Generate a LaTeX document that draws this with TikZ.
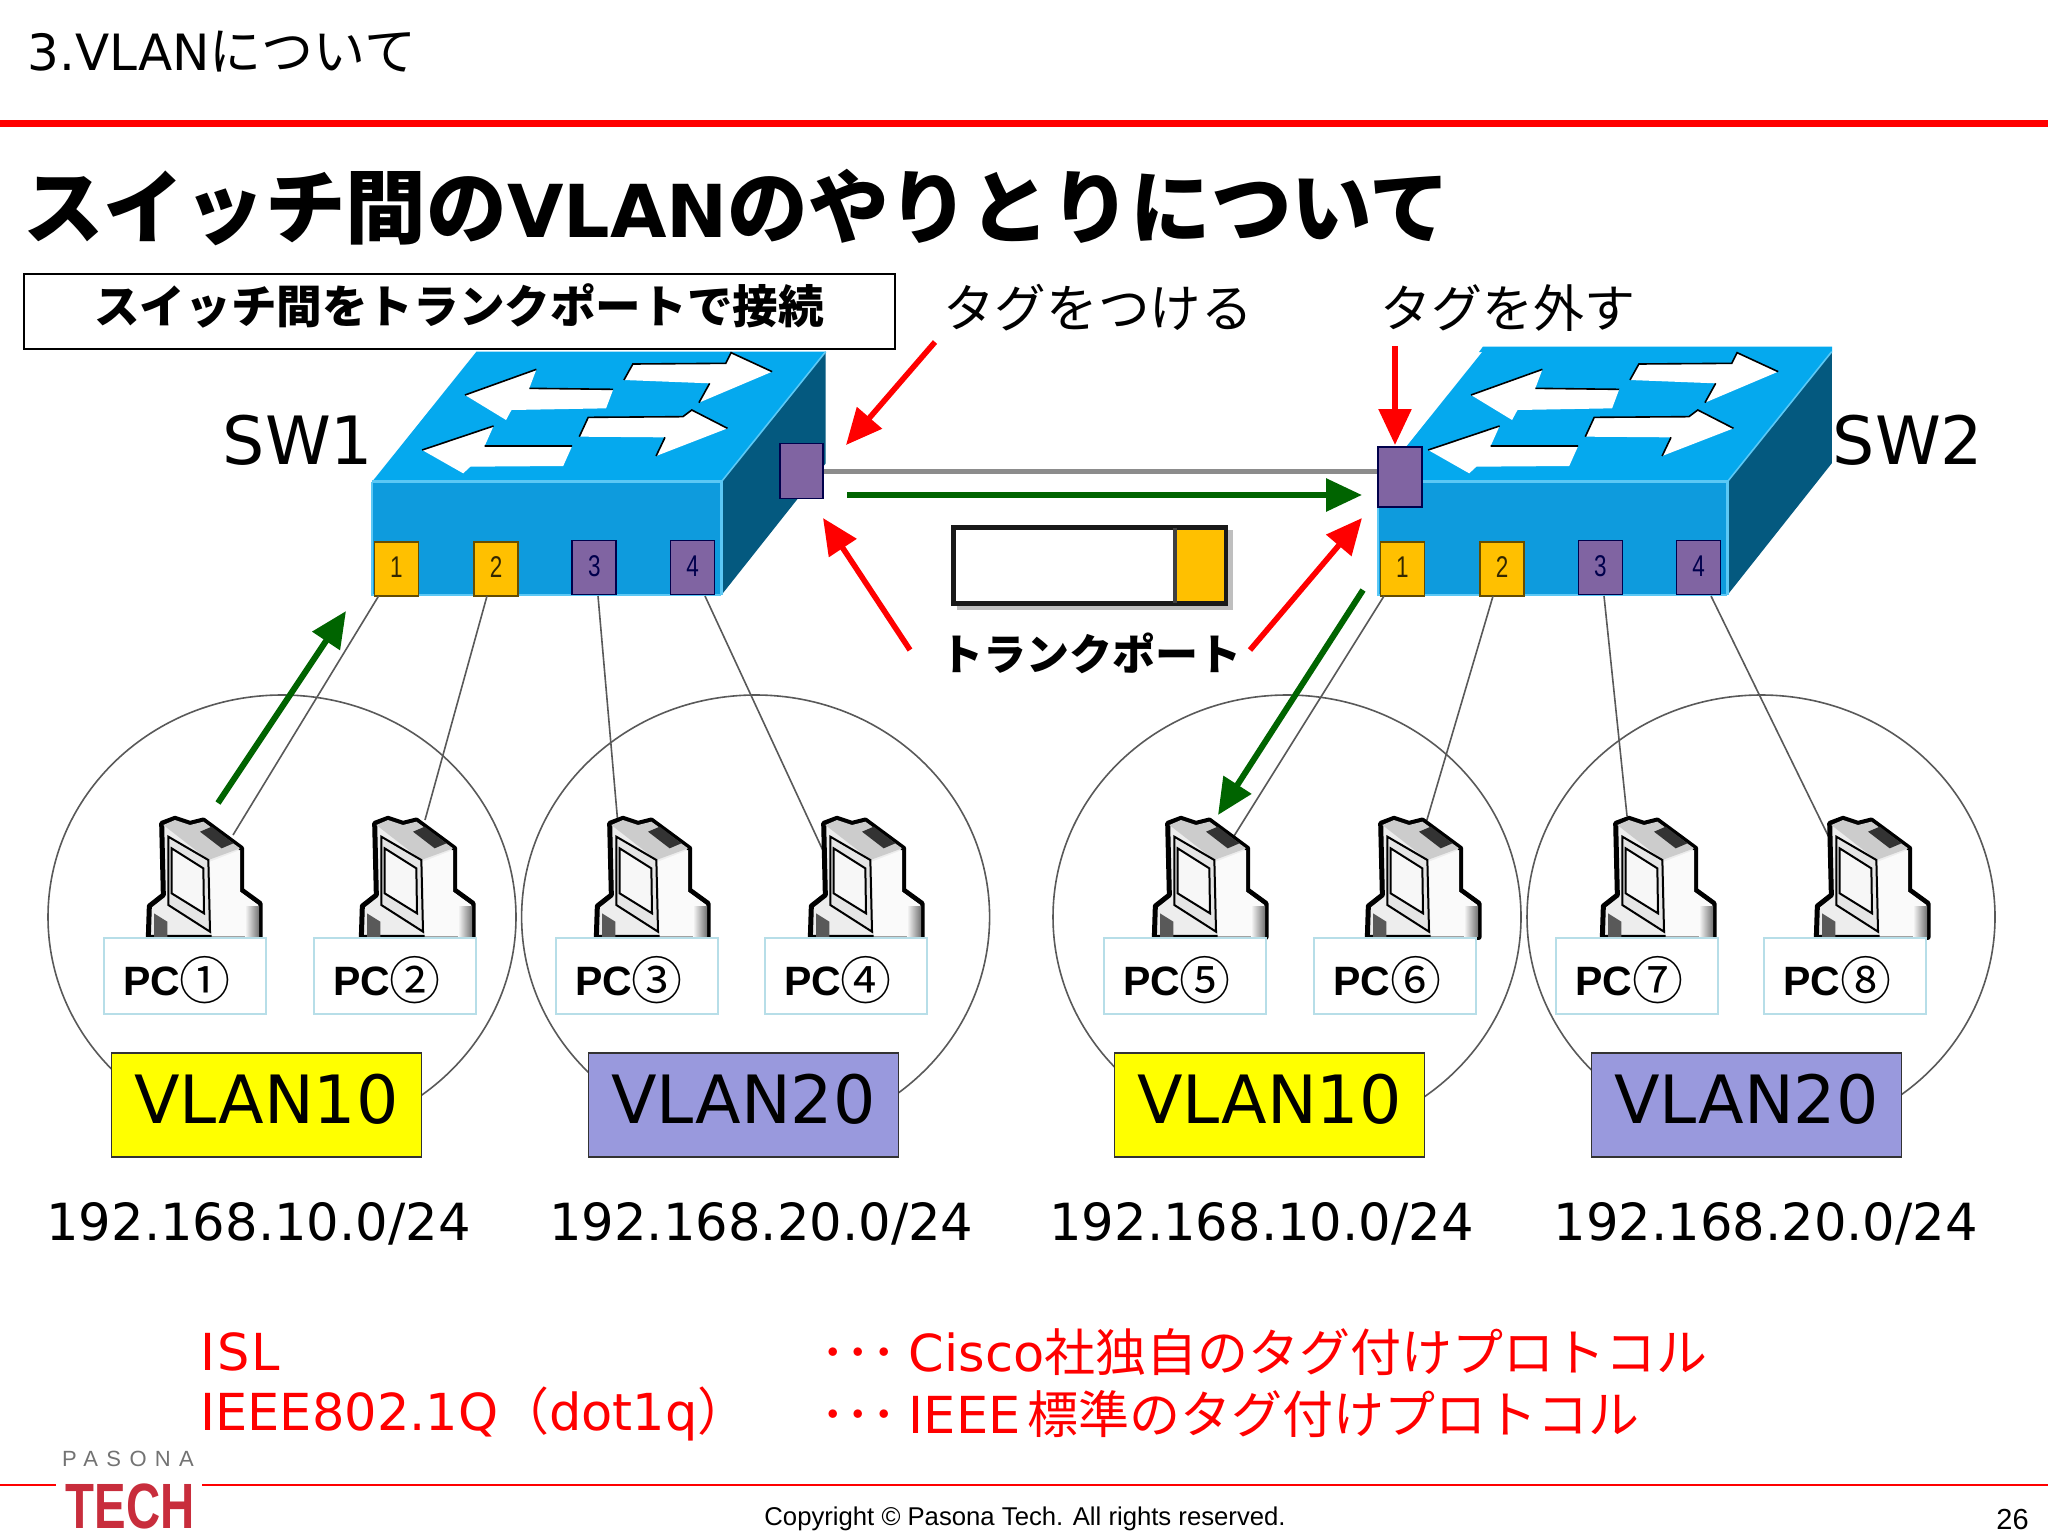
\documentclass[tikz,border=0pt]{standalone}
\usepackage{fontspec}
\usepackage{graphicx}
\usetikzlibrary{arrows.meta}
\setmainfont{DejaVu Sans}
\newfontfamily\jp{Noto Sans CJK JP}
\newfontfamily\arial{Liberation Sans}
\newfontfamily\pasona[LetterSpace=38]{Liberation Sans}
\newcommand\fsz[1]{\fontsize{#1}{#1}\selectfont}
\newcommand\ptnum[1]{\raisebox{1.5pt}{\scalebox{.75}[1]{#1}}}
\definecolor{swtop}{HTML}{05A9EE}
\definecolor{swfront}{HTML}{0E9BDD}
\definecolor{swside}{HTML}{04597F}
\definecolor{swedge}{HTML}{5CC8F5}
\definecolor{porto}{HTML}{FFC000}
\definecolor{portp}{HTML}{8064A2}
\definecolor{vlany}{RGB}{255,255,0}
\definecolor{vlanp}{HTML}{9999DD}
\definecolor{pcb}{HTML}{B7DEE8}
\definecolor{dgreen}{HTML}{006400}
\tikzset{
 ptbase/.style={inner sep=0pt,minimum width=22pt,minimum height=27pt,line width=.8pt,font=\arial\fontsize{15}{15}\selectfont},
 portor/.style={ptbase,fill=porto,draw=black!60!porto,text=black!80!porto},
 portpu/.style={ptbase,fill=portp,draw=blue!30!black,text=blue!30!black},
 pclabel/.style={draw=pcb,fill=white,line width=1pt,minimum width=81pt,minimum height=38pt,inner sep=0pt},
 pctext/.style={inner sep=0pt},
 vlanbox/.style={draw=black!80,line width=.8pt,minimum width=155pt,minimum height=52pt,inner sep=0pt,font=\fsz{33.3}},
 vcircle/.style={draw=black!65,line width=.8pt},
 iptext/.style={inner sep=0pt,font=\fsz{25.6}},
 link/.style={draw=black!65,line width=.8pt},
 redarrow/.style={draw=red,line width=2.8pt,-{Triangle[length=18pt,width=16pt]}},
 greenarrow/.style={draw=dgreen,line width=3pt,-{Triangle[length=18pt,width=16pt]}},
 redtext/.style={inner sep=0pt,text=red,font=\fsz{25.5}},
 switchpic/.pic={
  \begin{scope}[x=0.17857pt,y=-0.16667pt]
   \fill[swside] (1068,455)--(1360,65)--(1360,400)--(1068,795)--cycle;
   \fill[swtop] (90,455)--(382,65)--(1360,65)--(1068,455)--cycle;
   \fill[swfront] (90,455) rectangle (1068,795);
   \draw[swedge,line width=1.2pt] (90,455)--(1068,455)--(1068,795);
   \draw[swedge,line width=.8pt] (1068,455)--(1360,65);
   \draw[swedge,line width=.8pt] (90,455)--(90,795)--(1068,795);
   \fill[white] (350,195)--(550,118)--(530,175)--(765,178)--(745,235)--(480,240)--(465,270)--cycle;
   \fill[white] (795,150)--(820,102)--(1080,100)--(1095,68)--(1210,125)--(1005,218)--(1035,160)--cycle;
   \fill[white] (230,360)--(430,288)--(405,348)--(650,348)--(625,408)--(365,410)--(345,430)--cycle;
   \fill[white] (670,320)--(695,262)--(960,260)--(985,240)--(1085,295)--(885,378)--(910,322)--cycle;
   \draw[black,line width=.8pt] (350,195)--(550,118) (530,175)--(765,178);
   \draw[black,line width=.8pt] (795,150)--(820,102)--(1080,100)--(1095,68)--(1210,125) (1035,160)--(1005,218);
   \draw[black,line width=.8pt] (230,360)--(430,288) (405,348)--(650,348);
   \draw[black,line width=.8pt] (670,320)--(695,262)--(960,260)--(985,240)--(1085,295) (910,322)--(885,378);
   \node[portor] (-p1) at (158,717) {\ptnum{1}};
   \node[portor] (-p2) at (437,717) {\ptnum{2}};
   \node[portpu] (-p3) at (712,712) {\ptnum{3}};
   \node[portpu] (-p4) at (987,712) {\ptnum{4}};
  \end{scope}
 },
 pcpic/.pic={
  \begin{scope}[x=0.16667pt,y=-0.16667pt]
   \draw[black,line width=2.5pt,fill=black!7,line join=round] (355,472)--(358,378)--(400,345)--(395,130)--(435,115)--(480,130)--(520,120)--(635,205)--(635,330)--(690,370)--(690,472)--cycle;
   \fill[black!2] (540,245)--(630,210)--(630,335)--(685,375)--(685,470)--(545,470)--cycle;
   \shade[left color=black!2,right color=black!55] (645,378) rectangle (687,470);
   \fill[black!20] (400,135)--(435,120)--(480,135)--(520,125)--(630,205)--(535,240)--cycle;
   \draw[black,line width=1pt,fill=black!10] (415,170)--(535,240)--(540,455)--(415,375)--cycle;
   \draw[black,line width=1pt,fill=black!3] (425,205)--(520,265)--(522,400)--(425,340)--cycle;
   \fill[black!80] (510,155)--(545,140)--(610,190)--(575,205)--cycle;
   \fill[black!65] (372,400)--(412,425)--(412,472)--(372,472)--cycle;
  \end{scope}
 }
}
\begin{document}
\begin{tikzpicture}[x=.5pt,y=-.5pt]
\useasboundingbox (0,0) rectangle (2048,1536);
\fill[white] (0,0) rectangle (2048,1536);
% header
\node[anchor=west,inner sep=0pt] (title) at (27,52) {\fsz{25}3.VLAN\jp\fsz{26}について};
\fill[red] (0,120) rectangle (2048,127);
\node[anchor=west,inner sep=0pt] (heading) at (23,208) {\fsz{40.3}\jp\bfseries スイッチ間の{\fontspec{DejaVu Sans}\bfseries\fsz{36.5}VLAN}のやりとりについて};
% circles
\foreach \c/\n in {282/1,755.6/2,1287/3,1761/4}
  \draw[vcircle] (\c,917) ellipse[x radius=234,y radius=222];
% switches
\fill[swtop] (1483,346.5)--(1832,346.5)--(1832,352)--(1479,352)--cycle;
\pic (swa) at (340,330) {switchpic};
\pic (swb) at (1346,330) {switchpic};
\node[portpu,minimum width=21.5pt,minimum height=27.5pt] (swa-t) at (801.5,471) {};
\node[portpu,minimum width=22pt,minimum height=30pt] (swb-t) at (1400,477) {};
\draw[draw=black!45,line width=2.5pt] (swa-t.east) -- (swa-t.east -| swb-t.west);
% link ends
\foreach \n/\x/\y in {1/233/835,2/425/820,3/618/825,4/825/855,5/1234/836,6/1426/823,7/1627/816,8/1840/860}
  \coordinate (e\n) at (\x,\y);
\foreach \n/\x in {1/378.6,2/487,3/598,4/705}
  \coordinate (sa\n) at (\x,596);
\foreach \n/\x in {1/1384,2/1493,3/1604,4/1711}
  \coordinate (sb\n) at (\x,596);
\foreach \n in {1,2,3,4} \draw[link] (sa\n) -- (e\n);
\draw[link] (sb1) -- (e5);
\draw[link] (sb2) -- (e6);
\draw[link] (sb3) -- (e7);
\draw[link] (sb4) -- (e8);
% PCs
\foreach \c in {205,418,653,867,1211,1424,1659,1873}
  \pic at (\c-175,780) {pcpic};
\foreach \n/\c/\s in {1/185/①,2/395/②,3/637/③,4/846/④,5/1185/⑤,6/1395/⑥,7/1637/⑦,8/1845/⑧}{
  \node[pclabel] (pc\n) at (\c,976) {};
  \node[pctext] (pct\n) at (\c-8,980) {\arial\bfseries\fsz{20.5}PC\raisebox{-2pt}{\jp\mdseries\fsz{25.5}\s}};
}
% VLAN boxes
\node[vlanbox,fill=vlany] (v1) at (266.5,1105) {\raisebox{6.5pt}{VLAN10}};
\node[vlanbox,fill=vlanp] (v2) at (743.5,1105) {\raisebox{6.5pt}{VLAN20}};
\node[vlanbox,fill=vlany] (v3) at (1269.5,1105) {\raisebox{6.5pt}{VLAN10}};
\node[vlanbox,fill=vlanp] (v4) at (1746.5,1105) {\raisebox{6.5pt}{VLAN20}};
\node[iptext] (ip1) at (258.6,1224) {192.168.10.0/24};
\node[iptext] (ip2) at (761.4,1224) {192.168.20.0/24};
\node[iptext] (ip3) at (1261.6,1224) {192.168.10.0/24};
\node[iptext] (ip4) at (1765.7,1224) {192.168.20.0/24};
% captions
\node[draw=black,line width=.8pt,fill=white,minimum width=435.5pt,minimum height=37.5pt,inner sep=0pt] (cap) at (459.5,311.5) {};
\node[inner sep=0pt,font=\jp\bfseries\fsz{22.8}] (capt) at (459,306) {スイッチ間をトランクポートで接続};
\node[inner sep=0pt,font=\jp\fsz{25.8}] (tag1) at (1098,308) {タグをつける};
\node[inner sep=0pt,font=\jp\fsz{25.5}] (tag2) at (1508,308) {タグを外す};
\node[inner sep=0pt,font=\fsz{33.3}] (sw1l) at (298,440) {SW1};
\node[inner sep=0pt,font=\fsz{33.3}] (sw2l) at (1908,440) {SW2};
% trunk symbol
\fill[black!25] (957,530) rectangle (1233,610);
\node[draw=black!90,line width=2.3pt,fill=white,minimum width=136pt,minimum height=38pt,inner sep=0pt] (tr) at (1089.5,565.5) {};
\fill[porto] (1175,530) rectangle (1224,601);
\draw[black!75,line width=2pt] (1175,528) -- (1175,603);
\node[inner sep=0pt,font=\jp\bfseries\fsz{21.5}] (trl) at (1091,653) {トランクポート};
% arrows
\coordinate (r1a) at (935,342);  \coordinate (r1b) at (846,445);
\coordinate (r2a) at (1395,346); \coordinate (r2b) at (1395,445);
\coordinate (r3a) at (910,650);  \coordinate (r3b) at (823,518);
\coordinate (r4a) at (1250,650); \coordinate (r4b) at (1362,518);
\coordinate (g1a) at (847,495);  \coordinate (g1b) at (1362,495);
\coordinate (g2a) at (218,803);  \coordinate (g2b) at (346,611);
\coordinate (g3a) at (1363,590); \coordinate (g3b) at (1218,815);
\draw[redarrow] (r1a) -- (r1b);
\draw[redarrow] (r2a) -- (r2b);
\draw[redarrow] (r3a) -- (r3b);
\draw[redarrow] (r4a) -- (r4b);
\draw[greenarrow] (g1a) -- (g1b);
\draw[greenarrow] (g2a) -- (g2b);
\draw[greenarrow] (g3a) -- (g3b);
% red notes
\node[redtext,anchor=west] (n1) at (200,1352) {I\hspace{1pt}S\hspace{1pt}L};
\node[redtext,anchor=west] (n2) at (200,1414) {IEEE802.1Q\jp（\fontspec{DejaVu Sans}dot1q\jp）};
\node[redtext,anchor=west] (n3) at (820,1352) {\jp･･･\hspace{6pt}\fontspec{DejaVu Sans}Cisco\jp 社独自のタグ付けプロトコル};
\node[redtext,anchor=west] (n4) at (820,1414) {\jp･･･\hspace{6pt}\fontspec{DejaVu Sans}IEEE\hspace{3.5pt}\jp 標準のタグ付けプロトコル};
% footer
\draw[red,line width=1pt] (0,1485) -- (56,1485) (202,1485) -- (2048,1485);
\node[inner sep=0pt,text=black!55,font=\pasona\fsz{11}] (logoa) at (128,1459) {PASONA};
\node[inner sep=0pt,text={rgb,255:red,200;green,45;blue,60}] (logob) at (130,1506) {\scalebox{.74}[1]{\arial\bfseries\fsz{32}TECH}};
\node[inner sep=0pt,anchor=west,font=\arial\fsz{12.85}] (copy) at (764,1519) {Copyright © Pasona Tech. All rights reserved.};
\node[inner sep=0pt,anchor=east,font=\arial\fsz{14.5}] (page) at (2029,1519) {26};
\end{tikzpicture}
\end{document}
